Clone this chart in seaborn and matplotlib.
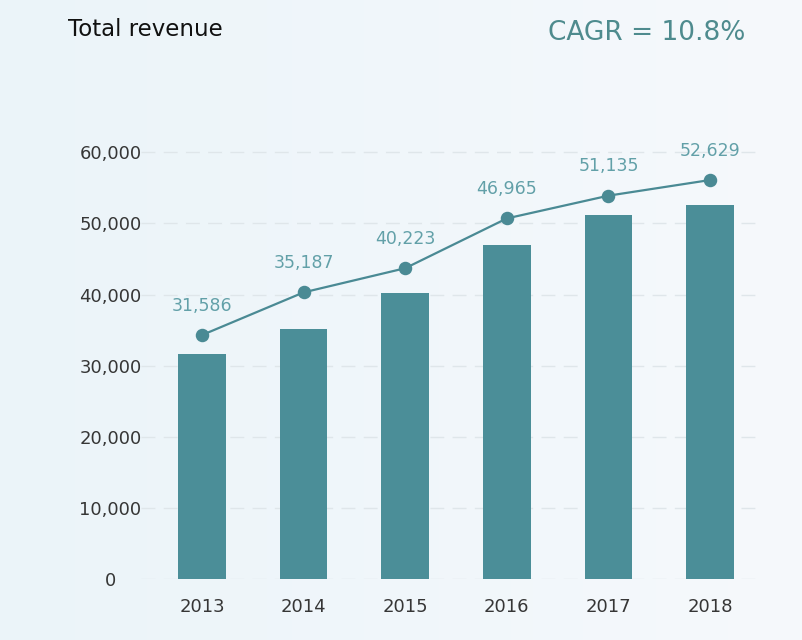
import numpy as np
import pandas as pd
import matplotlib
matplotlib.use("Agg")
import matplotlib.pyplot as plt
import seaborn as sns

years = ["2013", "2014", "2015", "2016", "2017", "2018"]
revenue = [31586, 35187, 40223, 46965, 51135, 52629]
# trend-line marker heights (drawn above the bars)
line_y = [34300, 40300, 43700, 50700, 53900, 56100]
yticks = [0, 10000, 20000, 30000, 40000, 50000, 60000]
title = "Total revenue"
cagr_text = "CAGR = 10.8%"

bar_color = "#4b8e98"
line_color = "#4a8a94"
label_color = "#62a0a8"

sns.set_theme(style="white")
plt.rcParams["font.family"] = ["DejaVu Sans"]

df = pd.DataFrame({"year": years, "revenue": revenue, "line": line_y})

fig = plt.figure(figsize=(8.03, 6.40), dpi=100)
fig.patch.set_facecolor("#f1f7fb")
# subtle background gradient
grad = np.linspace(0, 1, 256).reshape(1, -1)
bg = fig.add_axes([0, 0, 1, 1], zorder=-10)
bg.imshow(grad, aspect="auto", cmap=matplotlib.colors.LinearSegmentedColormap.from_list(
    "bg", ["#ebf4f9", "#f6f9fc"]), extent=[0, 1, 0, 1])
bg.axis("off")

ax = fig.add_axes([0.1756, 0.0953, 0.772, 0.689])
ax.set_facecolor("none")

sns.barplot(data=df, x="year", y="revenue", color=bar_color, width=0.47,
            saturation=1, linewidth=0, edgecolor="none", ax=ax, zorder=2)
sns.pointplot(data=df, x="year", y="line", color=line_color, markers="o",
              markersize=8.5, linewidth=1.6, ax=ax, zorder=3)

for i, (v, ly) in enumerate(zip(revenue, line_y)):
    ax.annotate(f"{v:,}", xy=(i, ly), xytext=(0, 21), textcoords="offset points",
                ha="center", va="center", fontsize=12.5, color=label_color,
                zorder=4)

ax.set_xlim(-0.6, 5.5)
ax.set_ylim(0, 62000)
ax.set_yticks(yticks)
ax.set_yticklabels([f"{t:,}" for t in yticks], ha="center")
ax.set_xlabel("")
ax.set_ylabel("")
ax.tick_params(axis="both", length=0, labelsize=13, labelcolor="#363636")
ax.tick_params(axis="y", pad=22)
ax.tick_params(axis="x", pad=14)
ax.yaxis.grid(True, color="#dfe6ea", linestyle=(0, (10, 6)), linewidth=1)
ax.set_axisbelow(True)
for s in ax.spines.values():
    s.set_visible(False)

fig.text(68 / 803, 1 - 30 / 640, title, ha="left", va="center",
         fontsize=16.5, color="#111111")
fig.text(745 / 803, 1 - 33 / 640, cagr_text, ha="right", va="center",
         fontsize=19, color="#4e8b8e")

fig.savefig("out.png", dpi=100, facecolor=fig.get_facecolor())
